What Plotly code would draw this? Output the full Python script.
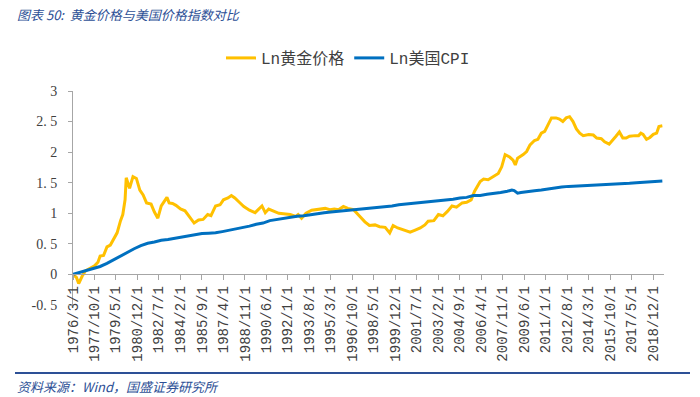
import plotly.graph_objects as go

# ---------------- data ----------------
gold_dates = [
    "1976-03-01", "1976-06-01", "1976-08-01", "1976-11-01", "1977-02-01", "1977-06-01", "1977-10-01",
    "1978-01-01", "1978-03-01", "1978-06-01", "1978-09-01", "1978-12-01", "1979-03-01", "1979-06-01",
    "1979-09-01", "1979-11-01", "1980-01-01", "1980-02-01", "1980-05-01", "1980-08-01", "1980-11-01",
    "1981-02-01", "1981-05-01", "1981-08-01", "1981-12-01", "1982-03-01", "1982-06-01", "1982-09-01",
    "1983-02-01", "1983-04-01", "1983-07-01", "1983-10-01", "1984-02-01", "1984-06-01", "1984-10-01",
    "1985-02-01", "1985-06-01", "1985-10-01", "1986-02-01", "1986-05-01", "1986-09-01", "1987-01-01",
    "1987-04-01", "1987-08-01", "1987-11-01", "1988-02-01", "1988-06-01", "1988-10-01", "1989-03-01",
    "1989-08-01", "1990-02-01", "1990-05-01", "1990-08-01", "1991-01-01", "1991-05-01", "1991-11-01",
    "1992-03-01", "1992-08-01", "1992-10-01", "1993-01-01", "1993-05-01", "1993-10-01", "1994-04-01",
    "1994-10-01", "1995-02-01", "1995-06-01", "1995-10-01", "1996-02-01", "1996-06-01", "1996-11-01",
    "1997-03-01", "1997-06-01", "1997-09-01", "1998-01-01", "1998-06-01", "1998-10-01", "1999-03-01",
    "1999-07-01", "1999-10-01", "2000-02-01", "2000-07-01", "2001-01-01", "2001-05-01", "2001-10-01",
    "2002-02-01", "2002-05-01", "2002-10-01", "2003-02-01", "2003-06-01", "2003-10-01", "2004-02-01",
    "2004-06-01", "2004-11-01", "2005-03-01", "2005-07-01", "2005-10-01", "2006-03-01", "2006-06-01",
    "2006-10-01", "2007-03-01", "2007-07-01", "2007-10-01", "2008-01-01", "2008-05-01", "2008-08-01",
    "2008-10-01", "2008-12-01", "2009-05-01", "2009-08-01", "2009-11-01", "2010-03-01", "2010-06-01",
    "2010-09-01", "2010-12-01", "2011-03-01", "2011-06-01", "2011-10-01", "2012-01-01", "2012-04-01",
    "2012-07-01", "2012-10-01", "2013-01-01", "2013-04-01", "2013-07-01", "2013-10-01", "2014-03-01",
    "2014-07-01", "2014-10-01", "2015-02-01", "2015-05-01", "2015-09-01", "2015-12-01", "2016-03-01",
    "2016-06-01", "2016-09-01", "2016-12-01", "2017-03-01", "2017-08-01", "2017-11-01", "2018-01-01",
    "2018-03-01", "2018-06-01", "2018-09-01", "2018-12-01", "2019-03-01", "2019-05-01", "2019-08-01",
]
gold_ln = [
    0.00, -0.05, -0.15, -0.03, 0.06, 0.10, 0.14,
    0.20, 0.30, 0.31, 0.45, 0.48, 0.58, 0.68,
    0.88, 0.98, 1.22, 1.58, 1.41, 1.60, 1.57,
    1.38, 1.30, 1.17, 1.15, 1.02, 0.92, 1.12,
    1.26, 1.17, 1.16, 1.13, 1.07, 1.04, 0.94,
    0.84, 0.89, 0.90, 0.98, 0.96, 1.12, 1.14,
    1.22, 1.25, 1.29, 1.25, 1.18, 1.11, 1.05,
    1.01, 1.12, 1.01, 1.07, 1.03, 1.00, 0.99,
    0.98, 0.95, 0.98, 0.92, 1.00, 1.05, 1.07,
    1.08, 1.06, 1.07, 1.06, 1.11, 1.08, 1.06,
    0.98, 0.92, 0.86, 0.80, 0.81, 0.78, 0.77,
    0.68, 0.80, 0.76, 0.73, 0.69, 0.72, 0.76,
    0.81, 0.87, 0.88, 0.98, 0.96, 1.03, 1.12,
    1.10, 1.17, 1.18, 1.22, 1.36, 1.52, 1.56,
    1.55, 1.61, 1.65, 1.76, 1.96, 1.92, 1.87,
    1.79, 1.90, 1.96, 2.01, 2.12, 2.19, 2.21,
    2.31, 2.34, 2.45, 2.56, 2.56, 2.54, 2.50,
    2.56, 2.58, 2.50, 2.38, 2.31, 2.27, 2.29,
    2.28, 2.23, 2.22, 2.17, 2.13, 2.19, 2.26,
    2.33, 2.23, 2.23, 2.26, 2.27, 2.27, 2.31,
    2.29, 2.21, 2.24, 2.29, 2.31, 2.42, 2.43,
]

cpi_dates = [
    "1976-03-01", "1976-09-01", "1977-03-01", "1977-09-01", "1978-03-01", "1978-09-01", "1979-03-01",
    "1979-09-01", "1980-03-01", "1980-09-01", "1981-03-01", "1981-09-01", "1982-03-01", "1982-09-01",
    "1983-03-01", "1983-09-01", "1984-03-01", "1984-09-01", "1985-03-01", "1985-09-01", "1986-03-01",
    "1986-09-01", "1987-03-01", "1987-09-01", "1988-03-01", "1988-09-01", "1989-03-01", "1989-09-01",
    "1990-03-01", "1990-09-01", "1991-03-01", "1991-09-01", "1992-03-01", "1992-09-01", "1993-03-01",
    "1993-09-01", "1994-03-01", "1994-09-01", "1995-03-01", "1995-09-01", "1996-03-01", "1996-09-01",
    "1997-03-01", "1997-09-01", "1998-03-01", "1998-09-01", "1999-03-01", "1999-09-01", "2000-03-01",
    "2000-09-01", "2001-03-01", "2001-09-01", "2002-03-01", "2002-09-01", "2003-03-01", "2003-09-01",
    "2004-03-01", "2004-09-01", "2005-03-01", "2005-09-01", "2006-03-01", "2006-09-01", "2007-03-01",
    "2007-09-01", "2008-03-01", "2008-07-01", "2008-09-01", "2008-11-01", "2008-12-01", "2009-03-01",
    "2009-09-01", "2010-03-01", "2010-09-01", "2011-03-01", "2011-09-01", "2012-03-01", "2012-09-01",
    "2013-03-01", "2013-09-01", "2014-03-01", "2014-09-01", "2015-03-01", "2015-09-01", "2016-03-01",
    "2016-09-01", "2017-03-01", "2017-09-01", "2018-03-01", "2018-09-01", "2019-03-01", "2019-08-01",
]
cpi_ln = [
    0.00, 0.03, 0.07, 0.10, 0.13, 0.18, 0.24,
    0.30, 0.37, 0.42, 0.47, 0.51, 0.53, 0.56,
    0.57, 0.59, 0.61, 0.64, 0.65, 0.67, 0.675,
    0.68, 0.70, 0.72, 0.74, 0.77, 0.79, 0.82,
    0.84, 0.88, 0.90, 0.91, 0.93, 0.95, 0.96,
    0.98, 0.99, 1.01, 1.02, 1.03, 1.05, 1.06,
    1.07, 1.08, 1.09, 1.10, 1.10, 1.12, 1.14,
    1.15, 1.17, 1.18, 1.18, 1.20, 1.21, 1.22,
    1.23, 1.25, 1.26, 1.29, 1.29, 1.31, 1.32,
    1.34, 1.36, 1.38, 1.37, 1.34, 1.33, 1.34,
    1.36, 1.37, 1.38, 1.40, 1.42, 1.43, 1.44,
    1.445, 1.45, 1.46, 1.465, 1.46, 1.465, 1.47,
    1.48, 1.49, 1.50, 1.51, 1.52, 1.525, 1.53,
]

x_tick_dates = [
    "1976-03-01", "1977-10-01", "1979-05-01", "1980-12-01", "1982-07-01", "1984-02-01", "1985-09-01",
    "1987-04-01", "1988-11-01", "1990-06-01", "1992-01-01", "1993-08-01", "1995-03-01", "1996-10-01",
    "1998-05-01", "1999-12-01", "2001-07-01", "2003-02-01", "2004-09-01", "2006-04-01", "2007-11-01",
    "2009-06-01", "2011-01-01", "2012-08-01", "2014-03-01", "2015-10-01", "2017-05-01", "2018-12-01",
]
x_tick_labels = [
    "1976/3/1", "1977/10/1", "1979/5/1", "1980/12/1", "1982/7/1", "1984/2/1", "1985/9/1",
    "1987/4/1", "1988/11/1", "1990/6/1", "1992/1/1", "1993/8/1", "1995/3/1", "1996/10/1",
    "1998/5/1", "1999/12/1", "2001/7/1", "2003/2/1", "2004/9/1", "2006/4/1", "2007/11/1",
    "2009/6/1", "2011/1/1", "2012/8/1", "2014/3/1", "2015/10/1", "2017/5/1", "2018/12/1",
]
y_tick_vals = [-0.5, 0, 0.5, 1, 1.5, 2, 2.5, 3]
y_tick_labels = ["-0. 5", "0", "0. 5", "1", "1. 5", "2", "2. 5", "3"]

series_names = ["Ln黄金价格", "Ln美国CPI"]
title_text = "图表 50:  黄金价格与美国价格指数对比"
source_text = "资料来源：Wind，国盛证券研究所"

# ---------------- layout geometry ----------------
W, H = 700, 397
L, R, T, B = 73, 36, 91, 92
PW, PH = W - L - R, H - T - B


def px_x(px):
    return (px - L) / PW


def px_y(py):
    return (H - B - py) / PH


Y_MIN, Y_MAX = -0.5, 3.0
zero_pos = (0 - Y_MIN) / (Y_MAX - Y_MIN)

GOLD = "#FFC000"
BLUE = "#0070C0"
AXIS = "#A6A6A6"
TXT = "#404040"
NAVY = "#2D5096"

fig = go.Figure()
fig.add_trace(go.Scatter(x=gold_dates, y=gold_ln, mode="lines", name=series_names[0],
                         line=dict(color=GOLD, width=3)))
fig.add_trace(go.Scatter(x=cpi_dates, y=cpi_ln, mode="lines", name=series_names[1],
                         line=dict(color=BLUE, width=3)))

fig.update_layout(
    width=W, height=H, template="none",
    paper_bgcolor="white", plot_bgcolor="white",
    margin=dict(l=L, r=R, t=T, b=B, pad=0),
    showlegend=True,
    title=dict(text=title_text, xref="container", yref="container", x=17 / W, xanchor="left",
               y=1 - 15 / H, yanchor="middle",
               font=dict(family="Noto Sans CJK SC", size=13, color=NAVY, style="italic")),
    legend=dict(orientation="h", x=px_x(348), xanchor="center", y=px_y(58), yanchor="middle",
                font=dict(family="Liberation Mono, Noto Sans CJK SC", size=16, color=TXT),
                bgcolor="rgba(0,0,0,0)", itemwidth=30, tracegroupgap=0),
    xaxis=dict(type="date", range=["1976-03-01", "2019-09-15"], anchor="free", position=zero_pos,
               showgrid=False, zeroline=False, showline=True, linecolor=AXIS, linewidth=1,
               ticks="outside", ticklen=5, tickcolor=AXIS, tickwidth=1,
               tickmode="array", tickvals=x_tick_dates, ticktext=x_tick_labels, tickangle=-90,
               tickfont=dict(family="Liberation Mono", size=14, color=TXT), automargin=False),
    yaxis=dict(range=[Y_MIN, Y_MAX], showgrid=False, zeroline=False, showline=True,
               linecolor=AXIS, linewidth=1, ticks="outside", ticklen=4, tickcolor=AXIS,
               tickmode="array", tickvals=y_tick_vals, ticktext=y_tick_labels,
               tickfont=dict(family="Liberation Serif", size=14, color=TXT),
               ticklabelstandoff=8, automargin=False),
    shapes=[dict(type="line", xref="paper", yref="paper", x0=px_x(15), x1=px_x(690),
                 y0=px_y(373), y1=px_y(373), line=dict(color=NAVY, width=2))],
    annotations=[dict(text=source_text, xref="paper", yref="paper", x=px_x(15), xanchor="left",
                      y=px_y(386), yanchor="middle", showarrow=False,
                      font=dict(family="Noto Sans CJK SC", size=13, color=NAVY, style="italic"))],
)

fig.write_html(
    "out.html",
    config={"displayModeBar": False},
    post_script="document.body.style.margin='0';document.body.style.padding='0';"
                "document.documentElement.style.overflow='hidden';",
)
